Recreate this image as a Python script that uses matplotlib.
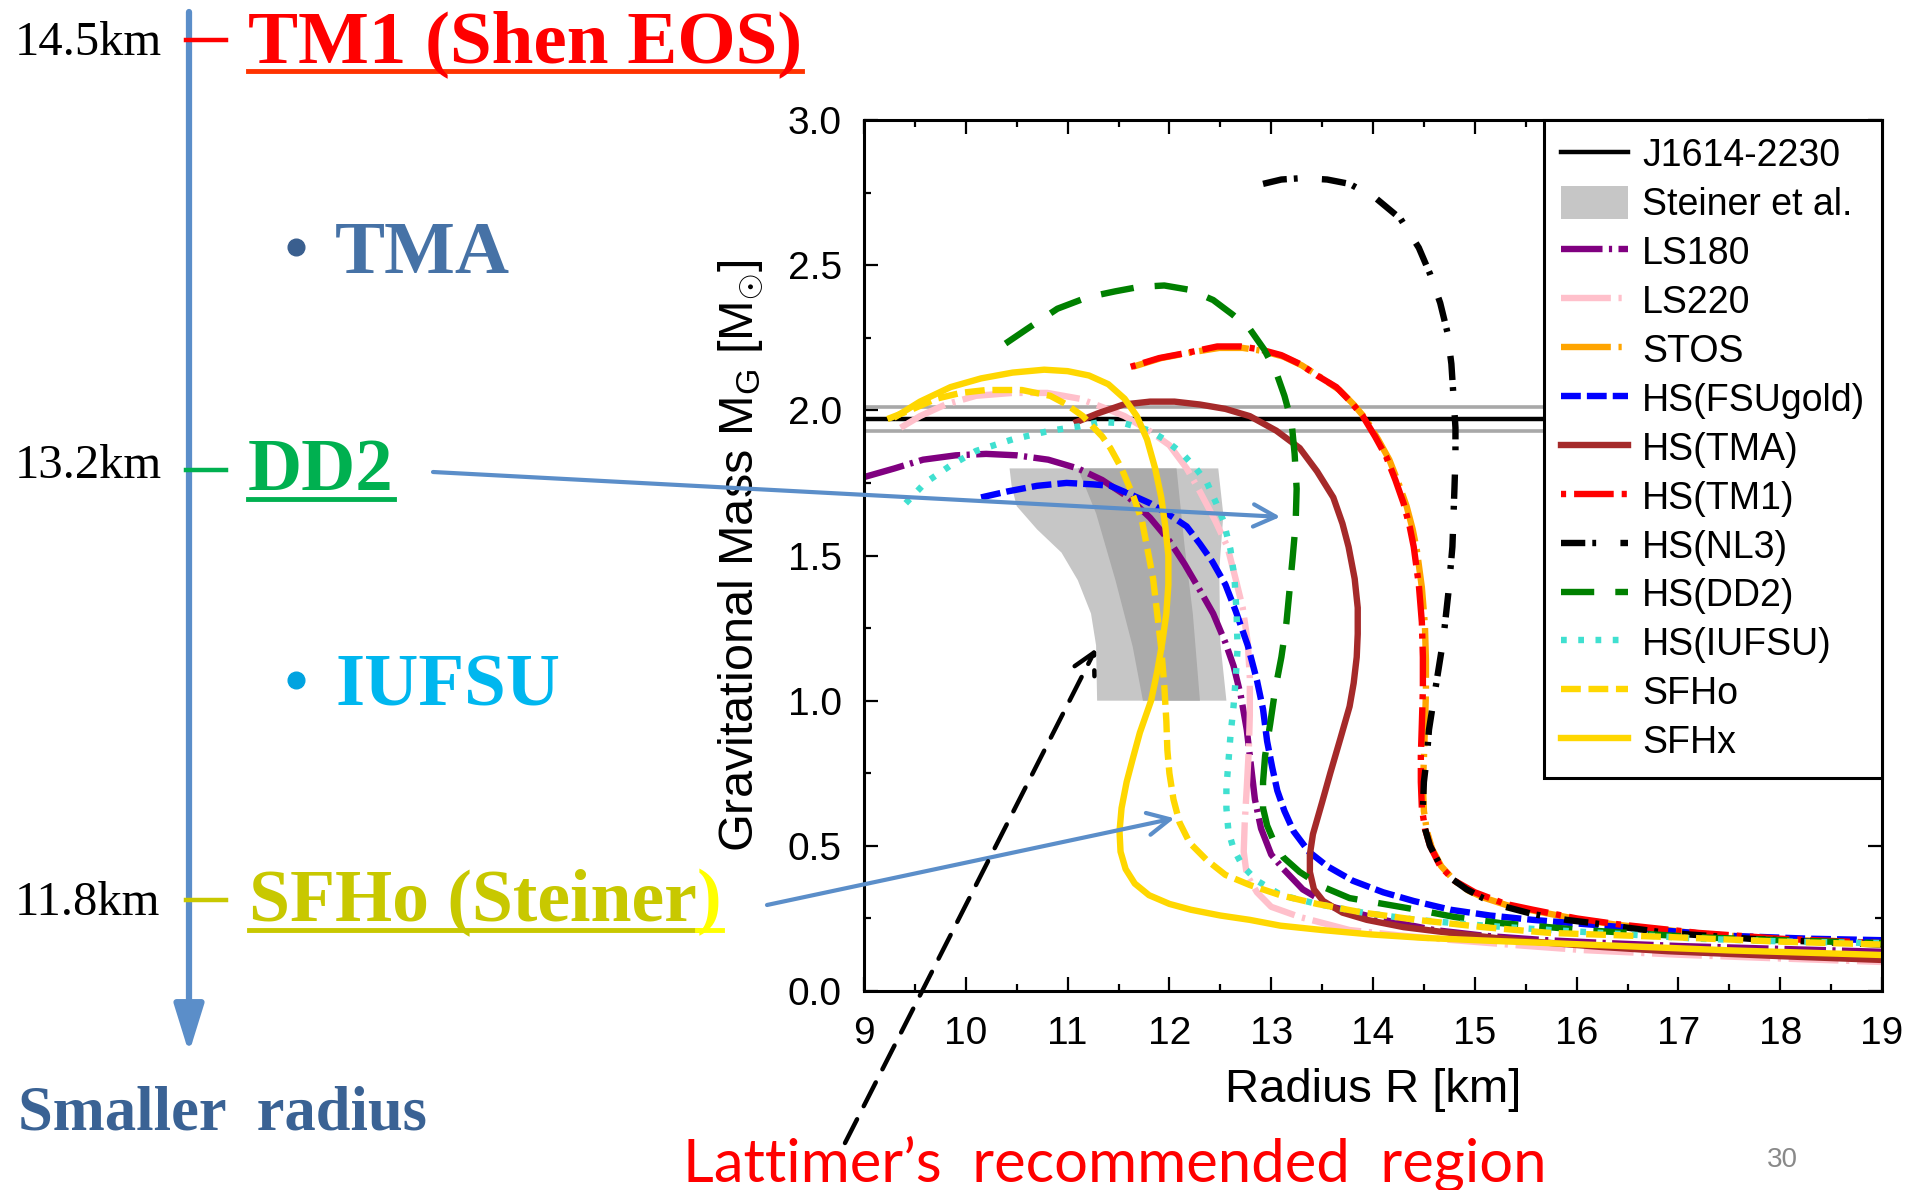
import numpy as np
import matplotlib as mpl
import matplotlib.pyplot as plt
from matplotlib.lines import Line2D
from matplotlib.patches import Polygon, FancyArrowPatch

mpl.rcParams['font.family'] = ['Liberation Sans', 'DejaVu Sans']
mpl.rcParams['mathtext.fontset'] = 'custom'
mpl.rcParams['mathtext.rm'] = 'Liberation Sans'
mpl.rcParams['mathtext.it'] = 'Liberation Sans:italic'

W, H = 1914, 1190

# ---------------- data: R [km], M [Msun]
j1614_mass = 1.97
j1614_err = 0.04

steiner_outer_r = [10.43, 12.48, 12.53, 12.49, 12.50, 12.56, 11.29, 11.28, 11.23, 11.10, 10.94, 10.70, 10.50, 10.45]
steiner_outer_m = [1.80, 1.80, 1.64, 1.45, 1.20, 1.00, 1.00, 1.19, 1.30, 1.415, 1.51, 1.59, 1.67, 1.74]
steiner_inner_r = [11.10, 12.07, 12.15, 12.23, 12.30, 11.74, 11.64, 11.47, 11.28]
steiner_inner_m = [1.80, 1.80, 1.53, 1.30, 1.00, 1.00, 1.185, 1.415, 1.645]

ls180_r = [9.0, 9.3, 9.58, 9.9, 10.2, 10.5, 10.81, 11.1, 11.34, 11.6, 11.81, 12.0, 12.15, 12.3, 12.43, 12.55,
           12.63, 12.7, 12.76, 12.8, 12.84, 12.9, 13.0, 13.12, 13.31, 13.6, 14.1, 14.6, 15.1, 15.7, 16.3, 17.0, 18.0, 19.0]
ls180_m = [1.77, 1.80, 1.83, 1.845, 1.85, 1.845, 1.83, 1.80, 1.76, 1.70, 1.63, 1.55, 1.47, 1.38, 1.30, 1.20,
           1.12, 1.02, 0.90, 0.78, 0.66, 0.56, 0.47, 0.42, 0.35, 0.29, 0.245, 0.21, 0.19, 0.175, 0.165, 0.155, 0.145, 0.135]

ls220_r = [9.36, 9.55, 9.8, 10.1, 10.46, 10.8, 11.12, 11.35, 11.56, 11.8, 12.0, 12.17, 12.3, 12.45, 12.57, 12.65,
           12.72, 12.77, 12.79, 12.79, 12.78, 12.76, 12.74, 12.73, 12.76, 12.86, 13.0, 13.28, 13.77, 14.3, 14.76,
           15.4, 16.06, 17.0, 18.0, 19.0]
ls220_m = [1.94, 1.98, 2.02, 2.05, 2.06, 2.06, 2.04, 2.01, 1.98, 1.93, 1.88, 1.80, 1.72, 1.62, 1.53, 1.42,
           1.32, 1.20, 1.08, 0.95, 0.83, 0.70, 0.58, 0.48, 0.40, 0.34, 0.29, 0.255, 0.21, 0.19, 0.176,
           0.158, 0.141, 0.125, 0.112, 0.10]

stos_r = [11.64, 11.92, 12.22, 12.49, 12.72, 12.91, 13.12, 13.3, 13.48, 13.67, 13.81, 13.93, 14.05, 14.16, 14.25,
          14.33, 14.39, 14.43, 14.48, 14.51, 14.52, 14.52, 14.51, 14.5, 14.49, 14.5, 14.53, 14.58, 14.67, 14.8,
          14.94, 15.1, 15.32, 15.6, 16.0, 16.4, 17.2, 18.0, 19.0]
stos_m = [2.15, 2.18, 2.20, 2.215, 2.215, 2.205, 2.185, 2.155, 2.115, 2.07, 2.02, 1.97, 1.90, 1.83, 1.75,
          1.67, 1.59, 1.52, 1.39, 1.26, 1.14, 1.03, 0.91, 0.80, 0.71, 0.62, 0.55, 0.49, 0.43, 0.38,
          0.345, 0.32, 0.295, 0.275, 0.248, 0.228, 0.198, 0.178, 0.163]

fsugold_r = [10.15, 10.4, 10.7, 10.99, 11.25, 11.42, 11.62, 11.81, 12.0, 12.17, 12.3, 12.42, 12.55, 12.65, 12.77,
             12.86, 12.92, 12.96, 13.01, 13.06, 13.13, 13.22, 13.37, 13.55, 13.8, 14.1, 14.4, 14.76, 15.15,
             15.57, 16.2, 16.8, 17.5, 18.3, 19.0]
fsugold_m = [1.70, 1.72, 1.74, 1.75, 1.745, 1.74, 1.71, 1.68, 1.64, 1.60, 1.54, 1.48, 1.40, 1.31, 1.19,
             1.07, 0.97, 0.86, 0.77, 0.69, 0.62, 0.55, 0.48, 0.43, 0.38, 0.34, 0.31, 0.28, 0.26,
             0.245, 0.227, 0.21, 0.19, 0.18, 0.175]

tma_r = [11.09, 11.3, 11.55, 11.81, 12.05, 12.3, 12.55, 12.79, 13.05, 13.28, 13.45, 13.61, 13.7, 13.76, 13.82,
         13.85, 13.85, 13.84, 13.81, 13.77, 13.68, 13.58, 13.5, 13.41, 13.38, 13.38, 13.42, 13.51, 13.7, 13.94,
         14.3, 14.76, 15.4, 16.23, 16.9, 18.0, 19.0]
tma_m = [1.96, 1.99, 2.02, 2.03, 2.03, 2.02, 2.005, 1.98, 1.93, 1.87, 1.79, 1.70, 1.61, 1.53, 1.42,
         1.32, 1.23, 1.15, 1.06, 0.98, 0.87, 0.75, 0.65, 0.54, 0.47, 0.41, 0.35, 0.31, 0.27, 0.245,
         0.22, 0.20, 0.175, 0.152, 0.137, 0.12, 0.107]

tm1_r = [11.62, 11.9, 12.2, 12.47, 12.7, 12.89, 13.1, 13.28, 13.45, 13.64, 13.78, 13.9, 14.02, 14.13, 14.22,
         14.30, 14.36, 14.4, 14.45, 14.48, 14.49, 14.49, 14.48, 14.47, 14.47, 14.48, 14.51, 14.56, 14.66, 14.8,
         15.0, 15.3, 15.57, 16.0, 16.4, 17.2, 18.0, 19.0]
tm1_m = [2.15, 2.18, 2.20, 2.22, 2.22, 2.21, 2.19, 2.16, 2.12, 2.08, 2.03, 1.98, 1.91, 1.84, 1.76,
         1.68, 1.60, 1.53, 1.40, 1.27, 1.15, 1.04, 0.92, 0.81, 0.72, 0.63, 0.56, 0.50, 0.43, 0.38,
         0.34, 0.30, 0.28, 0.25, 0.23, 0.20, 0.18, 0.165]

nl3_r = [12.92, 13.1, 13.31, 13.55, 13.77, 14.03, 14.27, 14.45, 14.56, 14.66, 14.73, 14.77, 14.79, 14.81, 14.81,
         14.8, 14.79, 14.78, 14.74, 14.69, 14.64, 14.59, 14.55, 14.53, 14.5, 14.49, 14.51, 14.56, 14.65, 14.76,
         14.92, 15.08, 15.3, 15.57, 15.9, 16.2, 16.89, 17.7, 18.5, 19.0]
nl3_m = [2.78, 2.795, 2.80, 2.795, 2.78, 2.73, 2.66, 2.56, 2.47, 2.37, 2.27, 2.16, 2.05, 1.94, 1.84,
         1.73, 1.63, 1.53, 1.37, 1.21, 1.10, 0.99, 0.90, 0.81, 0.72, 0.63, 0.56, 0.50, 0.44, 0.39,
         0.35, 0.32, 0.29, 0.265, 0.245, 0.232, 0.20, 0.18, 0.167, 0.16]

dd2_r = [10.39, 10.6, 10.9, 11.2, 11.47, 11.7, 11.95, 12.2, 12.43, 12.62, 12.79, 12.93, 13.05, 13.13, 13.2,
         13.23, 13.25, 13.24, 13.21, 13.18, 13.15, 13.1, 13.04, 12.99, 12.94, 12.92, 12.92, 12.96, 13.02, 13.12,
         13.28, 13.5, 13.77, 14.1, 14.43, 14.8, 15.25, 16.06, 17.2, 18.0, 19.0]
dd2_m = [2.23, 2.28, 2.35, 2.39, 2.41, 2.425, 2.43, 2.415, 2.38, 2.33, 2.28, 2.21, 2.13, 2.05, 1.96,
         1.85, 1.73, 1.61, 1.49, 1.38, 1.27, 1.15, 1.04, 0.92, 0.81, 0.72, 0.63, 0.57, 0.52, 0.46,
         0.41, 0.36, 0.32, 0.30, 0.28, 0.255, 0.234, 0.21, 0.185, 0.175, 0.165]

iufsu_r = [9.41, 9.6, 9.85, 10.1, 10.46, 10.83, 11.12, 11.32, 11.56, 11.81, 11.95, 12.13, 12.26, 12.37, 12.46,
           12.53, 12.6, 12.64, 12.66, 12.67, 12.65, 12.63, 12.6, 12.58, 12.56, 12.56, 12.58, 12.63, 12.72, 12.86,
           13.1, 13.45, 13.9, 14.43, 15.1, 15.74, 16.5, 17.2, 18.1, 19.0]
iufsu_m = [1.68, 1.75, 1.81, 1.86, 1.90, 1.93, 1.945, 1.96, 1.955, 1.93, 1.90, 1.85, 1.80, 1.75, 1.68,
           1.62, 1.52, 1.42, 1.30, 1.18, 1.07, 0.98, 0.88, 0.79, 0.70, 0.63, 0.55, 0.49, 0.43, 0.38,
           0.33, 0.30, 0.27, 0.245, 0.225, 0.21, 0.195, 0.18, 0.17, 0.165]

sfho_r = [9.23, 9.45, 9.71, 9.95, 10.2, 10.55, 10.83, 10.99, 11.15, 11.34, 11.42, 11.53, 11.65, 11.73, 11.78,
          11.84, 11.88, 11.92, 11.95, 11.97, 11.98, 12.0, 12.04, 12.1, 12.2, 12.37, 12.55, 12.79, 13.09, 13.45,
          13.9, 14.43, 15.08, 15.74, 16.9, 18.0, 19.0]
sfho_m = [1.97, 2.00, 2.04, 2.06, 2.07, 2.07, 2.05, 2.02, 1.98, 1.91, 1.87, 1.80, 1.70, 1.62, 1.53,
          1.42, 1.30, 1.18, 1.05, 0.93, 0.83, 0.75, 0.66, 0.58, 0.51, 0.45, 0.40, 0.365, 0.33, 0.30,
          0.27, 0.245, 0.22, 0.20, 0.186, 0.17, 0.16]

sfhx_r = [9.32, 9.55, 9.85, 10.15, 10.46, 10.77, 11.0, 11.21, 11.4, 11.56, 11.68, 11.78, 11.86, 11.92, 11.96,
          11.99, 11.99, 11.97, 11.93, 11.88, 11.82, 11.71, 11.64, 11.58, 11.53, 11.51, 11.52, 11.57, 11.66, 11.8,
          12.0, 12.21, 12.5, 12.79, 13.09, 13.5, 13.97, 14.5, 15.08, 16.23, 17.5, 19.0]
sfhx_m = [1.98, 2.03, 2.08, 2.11, 2.13, 2.14, 2.135, 2.12, 2.09, 2.04, 1.98, 1.90, 1.80, 1.70, 1.60,
          1.50, 1.40, 1.30, 1.20, 1.10, 1.00, 0.89, 0.80, 0.72, 0.63, 0.55, 0.48, 0.42, 0.37, 0.33,
          0.30, 0.28, 0.26, 0.245, 0.225, 0.21, 0.195, 0.183, 0.174, 0.158, 0.14, 0.124]

curve_names = ['LS180', 'LS220', 'STOS', 'HS(FSUgold)', 'HS(TMA)', 'HS(TM1)', 'HS(NL3)',
               'HS(DD2)', 'HS(IUFSU)', 'SFHo', 'SFHx']
curve_data = [(ls180_r, ls180_m), (ls220_r, ls220_m), (stos_r, stos_m), (fsugold_r, fsugold_m),
              (tma_r, tma_m), (tm1_r, tm1_m), (nl3_r, nl3_m), (dd2_r, dd2_m), (iufsu_r, iufsu_m),
              (sfho_r, sfho_m), (sfhx_r, sfhx_m)]
curve_colors = ['#800080', '#FFC0CB', '#FFA500', '#0000FF', '#A52A2A', '#FF0000', '#000000',
                '#008000', '#40E0D0', '#FFD700', '#FFD700']
curve_dashes = [(0, (6.5, 1.0, 0.5, 1.0)), (0, (7.8, 1.2, 0.5, 1.2)), (0, (7.8, 1.2, 0.5, 1.2)),
                (0, (3.1, 0.95)), '-', (0, (0.8, 1.25, 6.2, 1.25)), (0, (3.8, 1.1, 0.6, 3.8)),
                (0, (5.2, 3.3)), (0, (0.9, 1.8)), (0, (3.1, 1.2)), '-']

# ---------------- figure
fig = plt.figure(figsize=(W / 100, H / 100), dpi=100)
ax = fig.add_axes([864 / W, 1 - 991 / H, 1018 / W, 871 / H])

def fx(x):
    return x / W

def fy(y):
    return 1 - y / H

lw = 4.6
ax.axhline(j1614_mass + j1614_err, color='#a8a8a8', lw=2.6, zorder=1)
ax.axhline(j1614_mass - j1614_err, color='#a8a8a8', lw=2.6, zorder=1)
h_j = ax.axhline(j1614_mass, color='black', lw=3.2, zorder=1, label='J1614-2230')

h_st = ax.add_patch(Polygon(np.column_stack([steiner_outer_r, steiner_outer_m]), closed=True,
                            facecolor='#c6c6c6', edgecolor='none', zorder=0.5, label='Steiner et al.'))
ax.add_patch(Polygon(np.column_stack([steiner_inner_r, steiner_inner_m]), closed=True,
                     facecolor='#ababab', edgecolor='none', zorder=0.6))

handles = [h_j, h_st]
for name, (r, m), c, ls in zip(curve_names, curve_data, curve_colors, curve_dashes):
    h, = ax.plot(r, m, color=c, lw=lw, linestyle=ls, dash_capstyle='butt', label=name, zorder=2)
    handles.append(h)

ax.set_xlim(9, 19)
ax.set_ylim(0, 3)
ax.set_xticks(np.arange(9, 20, 1))
ax.set_xticks(np.arange(9.5, 19, 1), minor=True)
ax.set_yticks(np.arange(0, 3.01, 0.5))
ax.set_yticks(np.arange(0.25, 3, 0.5), minor=True)
ax.yaxis.set_major_formatter(mpl.ticker.FormatStrFormatter('%.1f'))
ax.tick_params(which='both', direction='in', top=True, right=True, width=1.6, labelsize=28)
ax.tick_params(which='major', length=10, pad=16)
ax.tick_params(which='minor', length=5)
ax.tick_params(axis='x', pad=18)
for s in ax.spines.values():
    s.set_linewidth(2.2)

ax.set_xlabel('Radius R [km]', fontsize=34, va='center')
ax.xaxis.set_label_coords(0.5, -0.1137)
ax.set_ylabel(r'Gravitational Mass M$_{\rm G}$ [M$_{\odot}$]', fontsize=35, va='center')
ax.yaxis.set_label_coords(-0.12, 0.5)

leg = ax.legend(handles=handles, loc='upper right', fontsize=27, frameon=True, fancybox=False,
                edgecolor='black', framealpha=1, borderaxespad=0, borderpad=0.45,
                handlelength=1.8, handleheight=1.0, handletextpad=0.37, labelspacing=0.30)
leg.get_frame().set_linewidth(2.2)
leg.set_zorder(5)

# ---------------- slide overlays
blue = '#5B8EC9'
ax.annotate('', xy=(13.09, 1.633), xycoords='data', xytext=(fx(433), fy(472)), textcoords='figure fraction',
            annotation_clip=False,
            arrowprops=dict(arrowstyle='->,head_length=1.6,head_width=0.8', color=blue, lw=3,
                            shrinkA=0, shrinkB=0, mutation_scale=10), zorder=6)
ax.annotate('', xy=(12.05, 0.595), xycoords='data', xytext=(fx(767), fy(905)), textcoords='figure fraction',
            annotation_clip=False,
            arrowprops=dict(arrowstyle='->,head_length=1.6,head_width=0.8', color=blue, lw=3,
                            shrinkA=0, shrinkB=0, mutation_scale=10), zorder=6)
ax.annotate('', xy=(11.28, 1.18), xycoords='data', xytext=(fx(845), fy(1143)), textcoords='figure fraction',
            annotation_clip=False,
            arrowprops=dict(arrowstyle='->,head_length=1.5,head_width=0.8', color='black', lw=3.2,
                            linestyle=(0, (6, 3.3)), shrinkA=0, shrinkB=0, mutation_scale=10), zorder=6)

# left scale arrow
fig.add_artist(FancyArrowPatch((fx(189), fy(12)), (fx(189), fy(1053)), transform=fig.transFigure,
                               arrowstyle='-|>,head_length=29,head_width=9', color=blue, lw=4.5,
                               shrinkA=0, shrinkB=0))
tick_rows = [(40, '#FF0000'), (470, '#00B050'), (900, '#C8C800')]
for y, c in tick_rows:
    fig.add_artist(Line2D([fx(186), fx(226)], [fy(y), fy(y)], color=c, lw=3.2, transform=fig.transFigure))

serif = 'Liberation Serif'
for txt, yb in [('14.5km', 55), ('13.2km', 478), ('11.8km', 915)]:
    fig.text(fx(15), fy(yb), txt, fontsize=35, family=serif, va='baseline', ha='left')

t_tm1 = fig.text(fx(248), fy(62), 'TM1 (Shen EOS)', fontsize=54, family=serif, weight='bold',
                 color='#FF0000', va='baseline')
t_dd2 = fig.text(fx(248), fy(490), 'DD2', fontsize=54, family=serif, weight='bold',
                 color='#00B050', va='baseline')
t_sf = fig.text(fx(249), fy(920), 'SFHo (Steiner', fontsize=53, family=serif, weight='bold',
                color='#C8C800', va='baseline')
fig.text(fx(335), fy(273), 'TMA', fontsize=54, family=serif, weight='bold', color='#4672A6', va='baseline')
fig.text(fx(335), fy(705), 'IUFSU', fontsize=54, family=serif, weight='bold', color='#00B7EF', va='baseline')
fig.add_artist(Line2D([fx(296)], [fy(247)], marker='o', ms=12, color='#3A5F8F', transform=fig.transFigure))
fig.add_artist(Line2D([fx(296)], [fy(680)], marker='o', ms=12, color='#00A3E0', transform=fig.transFigure))
fig.text(fx(18), fy(1130), 'Smaller  radius', fontsize=45, family=serif, weight='bold',
         color='#3A6294', va='baseline')

fig.text(fx(683), fy(1182), 'Lattimer\u2019s  recommended  region', fontsize=43, family=['Lato', 'DejaVu Sans'],
         color='#FF0000', va='baseline')
fig.text(fx(1767), fy(1167), '30', fontsize=20, color='#898989', va='baseline')

# underlines and the yellow closing bracket, placed from the drawn text extents
fig.canvas.draw()
rend = fig.canvas.get_renderer()
bb = t_sf.get_window_extent(rend)
t_br = fig.text(bb.x1 / W, fy(920), ')', fontsize=53, family=serif, weight='bold',
                color='#FFFF00', va='baseline')
fig.canvas.draw()
bb_br = t_br.get_window_extent(rend)
for t, yl, c in [(t_tm1, 71, '#FF3300'), (t_dd2, 499, '#00B050')]:
    b = t.get_window_extent(rend)
    fig.add_artist(Line2D([b.x0 / W, b.x1 / W], [fy(yl), fy(yl)], color=c, lw=3.5, transform=fig.transFigure))
fig.add_artist(Line2D([bb.x0 / W, bb.x1 / W], [fy(930), fy(930)], color='#C8C800', lw=3.5,
                      transform=fig.transFigure))
fig.add_artist(Line2D([bb.x1 / W, bb_br.x1 / W], [fy(930), fy(930)], color='#FFFF00', lw=3.5,
                      transform=fig.transFigure))

fig.savefig('out.png', dpi=100)
